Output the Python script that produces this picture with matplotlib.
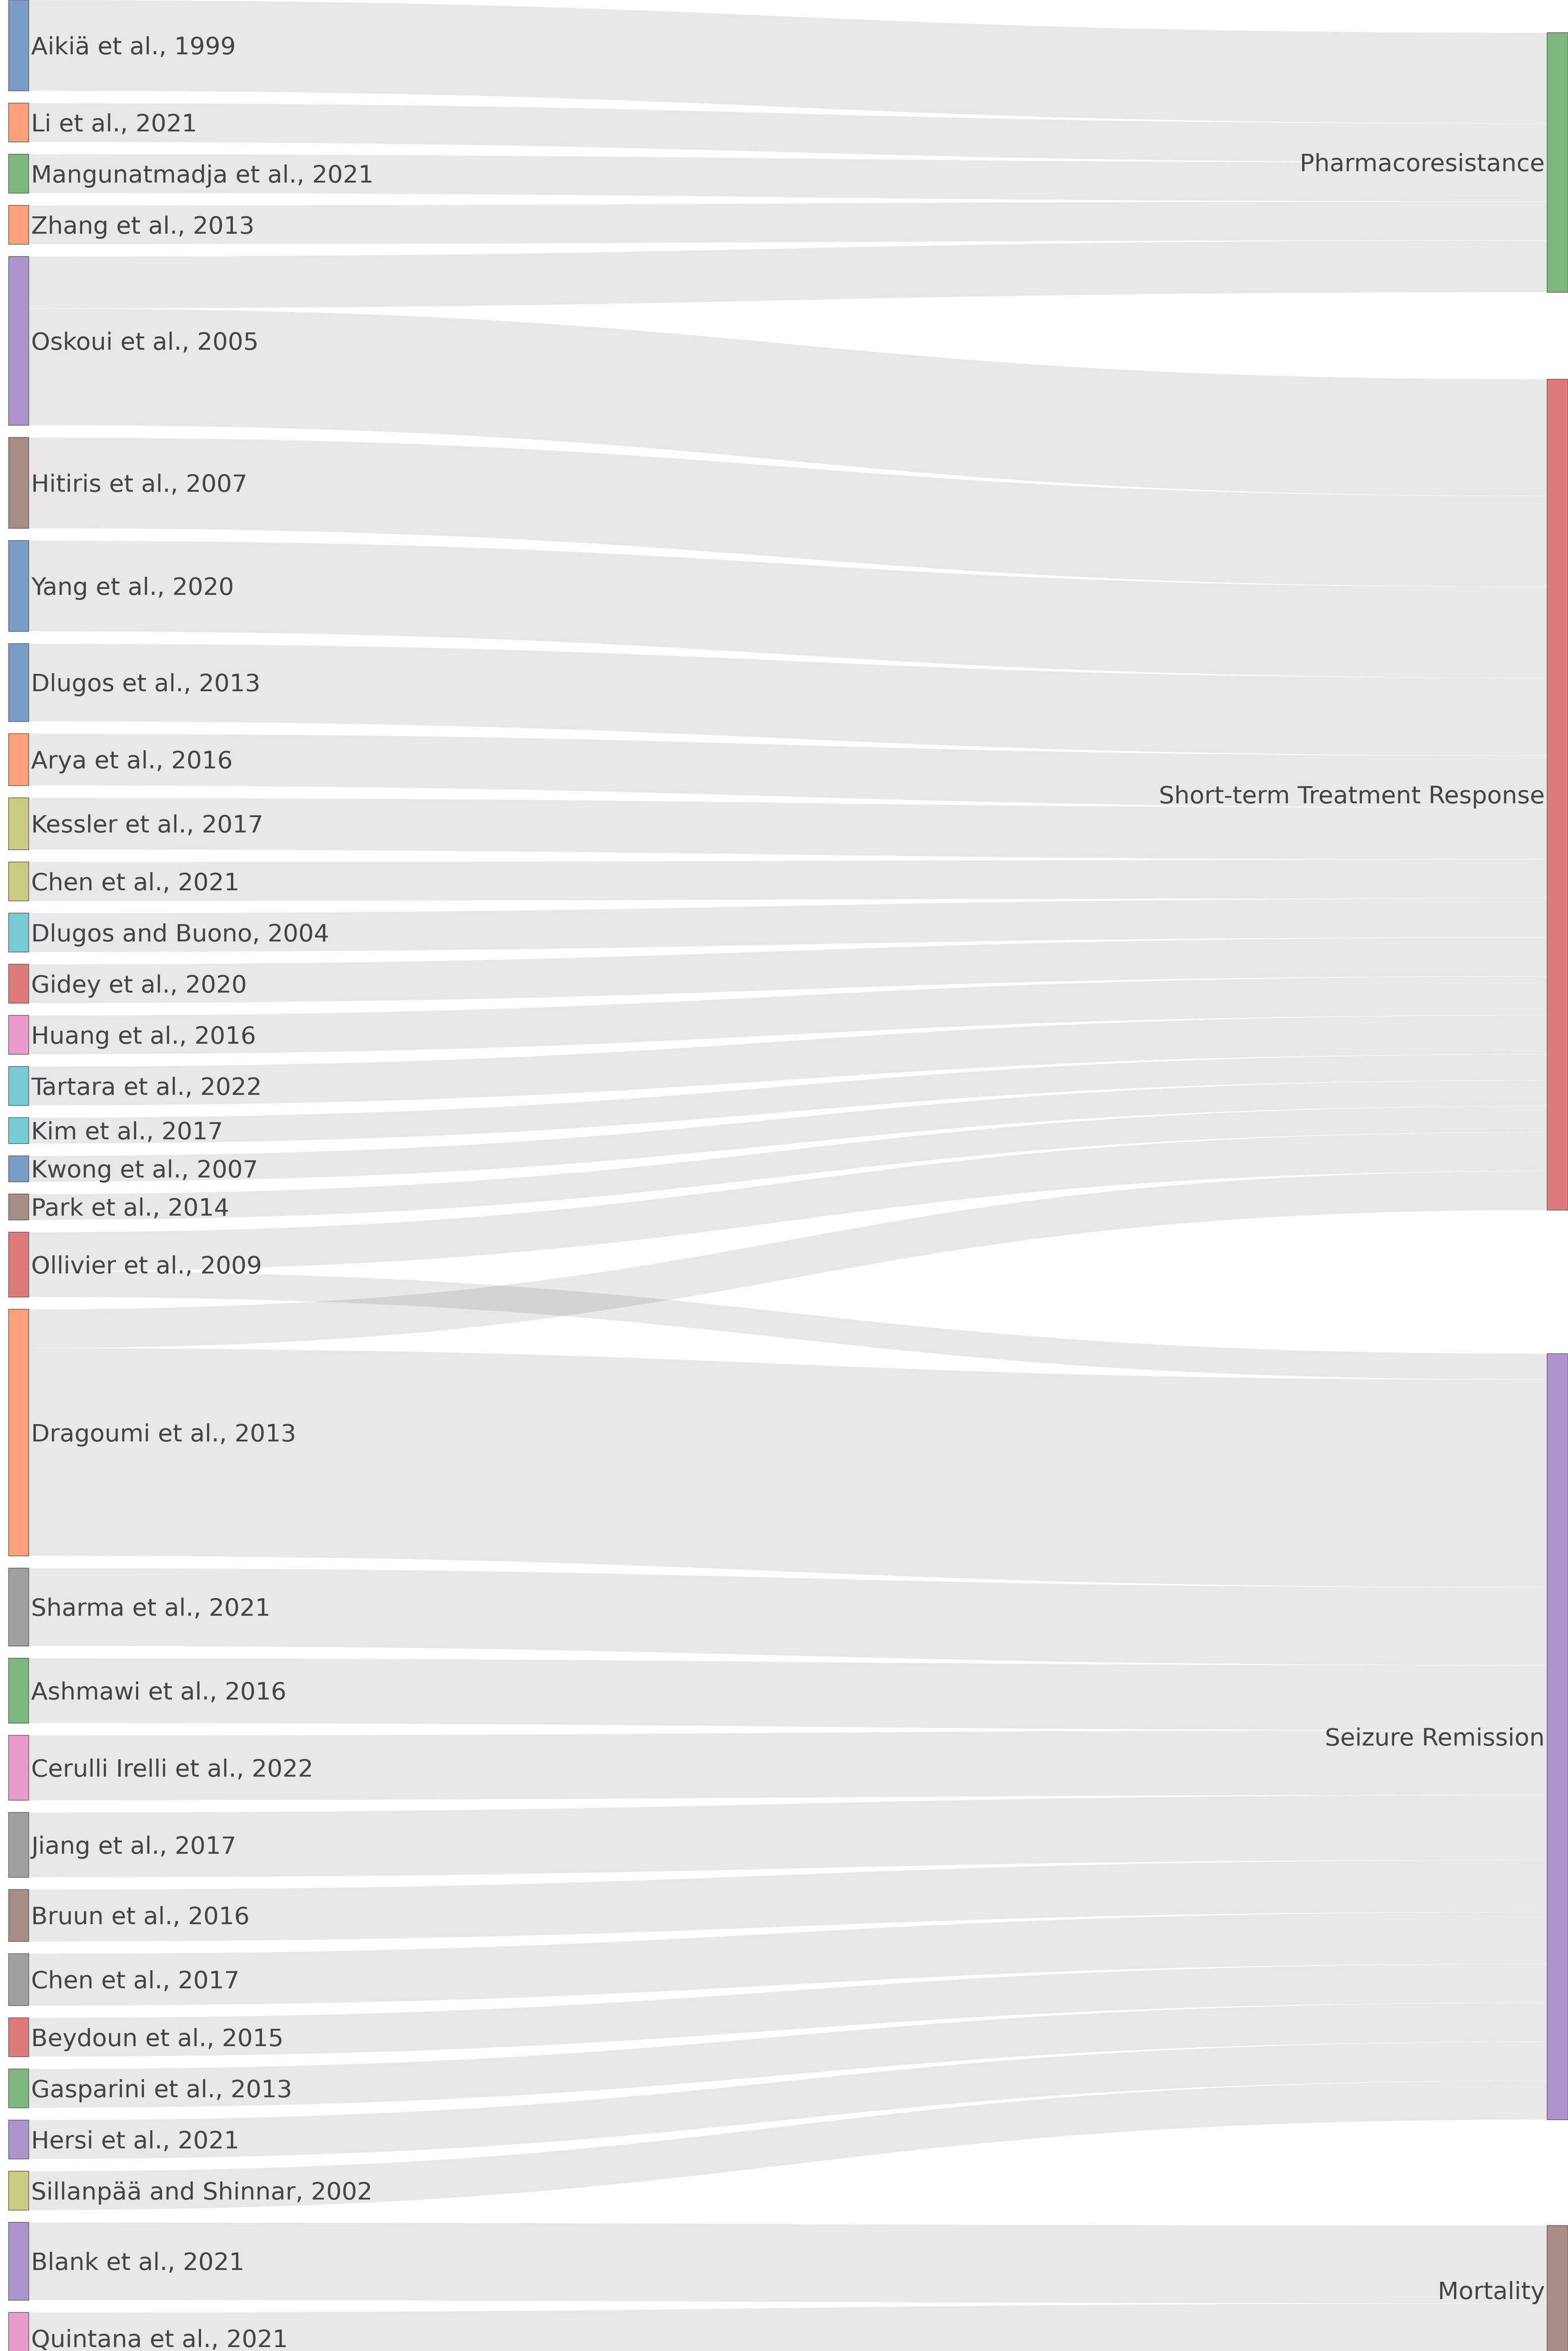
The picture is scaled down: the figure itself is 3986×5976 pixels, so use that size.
import numpy as np
import matplotlib
matplotlib.use('Agg')
import matplotlib.pyplot as plt
from matplotlib.path import Path
from matplotlib.patches import PathPatch, Rectangle

# ---- data ----
studies = ['Aikiä et al., 1999', 'Li et al., 2021', 'Mangunatmadja et al., 2021',
           'Zhang et al., 2013', 'Oskoui et al., 2005', 'Hitiris et al., 2007',
           'Yang et al., 2020', 'Dlugos et al., 2013', 'Arya et al., 2016',
           'Kessler et al., 2017', 'Chen et al., 2021', 'Dlugos and Buono, 2004',
           'Gidey et al., 2020', 'Huang et al., 2016', 'Tartara et al., 2022',
           'Kim et al., 2017', 'Kwong et al., 2007', 'Park et al., 2014',
           'Ollivier et al., 2009', 'Dragoumi et al., 2013', 'Sharma et al., 2021',
           'Ashmawi et al., 2016', 'Cerulli Irelli et al., 2022', 'Jiang et al., 2017',
           'Bruun et al., 2016', 'Chen et al., 2017', 'Beydoun et al., 2015',
           'Gasparini et al., 2013', 'Hersi et al., 2021', 'Sillanpää and Shinnar, 2002',
           'Blank et al., 2021', 'Quintana et al., 2021']
outcomes = ['Pharmacoresistance', 'Short-term Treatment Response',
            'Seizure Remission', 'Mortality']

link_source = ['Aikiä et al., 1999', 'Li et al., 2021', 'Mangunatmadja et al., 2021',
               'Zhang et al., 2013', 'Oskoui et al., 2005', 'Oskoui et al., 2005',
               'Hitiris et al., 2007', 'Yang et al., 2020', 'Dlugos et al., 2013',
               'Arya et al., 2016', 'Kessler et al., 2017', 'Chen et al., 2021',
               'Dlugos and Buono, 2004', 'Gidey et al., 2020', 'Huang et al., 2016',
               'Tartara et al., 2022', 'Kim et al., 2017', 'Kwong et al., 2007',
               'Park et al., 2014', 'Ollivier et al., 2009', 'Ollivier et al., 2009',
               'Dragoumi et al., 2013', 'Dragoumi et al., 2013', 'Sharma et al., 2021',
               'Ashmawi et al., 2016', 'Cerulli Irelli et al., 2022', 'Jiang et al., 2017',
               'Bruun et al., 2016', 'Chen et al., 2017', 'Beydoun et al., 2015',
               'Gasparini et al., 2013', 'Hersi et al., 2021', 'Sillanpää and Shinnar, 2002',
               'Blank et al., 2021', 'Quintana et al., 2021']
link_target = ['Pharmacoresistance'] * 5 + ['Short-term Treatment Response'] * 15 + \
              ['Seizure Remission', 'Short-term Treatment Response'] + \
              ['Seizure Remission'] * 11 + ['Mortality'] * 2
link_value = [7, 3, 3, 3, 4, 9, 7, 7, 6, 4, 4, 3, 3, 3, 3, 3, 2, 2, 2, 3,
              2, 3, 16, 6, 5, 5, 5, 4, 4, 3, 3, 3, 3, 6, 4]

# ---- style ----
pal = {'blue': '#7a9dc8', 'orange': '#fda07b', 'green': '#7eb77e', 'purple': '#ae94cc',
       'brown': '#a88c87', 'olive': '#cbcc82', 'cyan': '#79cbd7', 'red': '#dd7b7b',
       'pink': '#ea9ccf', 'gray': '#a0a0a0'}
study_color = ['blue', 'orange', 'green', 'orange', 'purple', 'brown', 'blue', 'blue',
               'orange', 'olive', 'olive', 'cyan', 'red', 'pink', 'cyan', 'cyan', 'blue',
               'brown', 'red', 'orange', 'gray', 'green', 'pink', 'gray', 'brown', 'gray',
               'red', 'green', 'purple', 'olive', 'purple', 'pink']
outcome_color = ['green', 'red', 'purple', 'brown']

W, H = 3986, 5976
unit = 33.0          # px per value unit
pad = 31             # gap between left nodes
lx0, lx1 = 22, 73
rx0, rx1 = 3933, 3986
right_gaps = [83, 221, 365, 269]
font_px = 61.5
fs = font_px * 72 / 100

# ---- layout ----
src_idx = [studies.index(s) for s in link_source]
tgt_idx = [outcomes.index(t) for t in link_target]
left_val = np.zeros(len(studies))
right_val = np.zeros(len(outcomes))
for s, t, v in zip(src_idx, tgt_idx, link_value):
    left_val[s] += v
    right_val[t] += v

left_top = np.zeros(len(studies))
y = 0
for i, v in enumerate(left_val):
    left_top[i] = y
    y += v * unit + pad

right_top = np.zeros(len(outcomes))
y = 0
for i, v in enumerate(right_val):
    y += right_gaps[i]
    right_top[i] = y
    y += v * unit

# offsets of each link at its source and target
order_src = sorted(range(len(link_value)), key=lambda k: (src_idx[k], tgt_idx[k]))
order_tgt = sorted(range(len(link_value)), key=lambda k: (tgt_idx[k], src_idx[k]))
s_off = left_top.copy()
t_off = right_top.copy()
link_y0 = {}
link_y1 = {}
for k in order_src:
    link_y0[k] = s_off[src_idx[k]]
    s_off[src_idx[k]] += link_value[k] * unit
for k in order_tgt:
    link_y1[k] = t_off[tgt_idx[k]]
    t_off[tgt_idx[k]] += link_value[k] * unit

fig = plt.figure(figsize=(W / 100, H / 100), dpi=100)
ax = fig.add_axes([0, 0, 1, 1])
ax.set_xlim(0, W)
ax.set_ylim(H, 0)
ax.axis('off')

# links
for k in range(len(link_value)):
    h = link_value[k] * unit
    a0, b0 = link_y0[k], link_y1[k]
    xm = (lx1 + rx0) / 2
    verts = [(lx1, a0), (xm, a0), (xm, b0), (rx0, b0),
             (rx0, b0 + h), (xm, b0 + h), (xm, a0 + h), (lx1, a0 + h), (lx1, a0)]
    codes = [Path.MOVETO, Path.CURVE4, Path.CURVE4, Path.CURVE4,
             Path.LINETO, Path.CURVE4, Path.CURVE4, Path.CURVE4, Path.CLOSEPOLY]
    ax.add_patch(PathPatch(Path(verts, codes), facecolor=(0, 0, 0, 0.09),
                           edgecolor=(1, 1, 1, 0.7), linewidth=0.6, zorder=1))

# nodes + labels
for i, name in enumerate(studies):
    h = left_val[i] * unit
    ax.add_patch(Rectangle((lx0, left_top[i]), lx1 - lx0, h, facecolor=pal[study_color[i]],
                           edgecolor='#555555', linewidth=1.1, zorder=2))
    ax.text(lx1 + 6, left_top[i] + h / 2 + 0.3645 * font_px, name, ha='left',
            va='baseline', fontsize=fs, color='#444444', family='DejaVu Sans', zorder=3)

for i, name in enumerate(outcomes):
    h = right_val[i] * unit
    ax.add_patch(Rectangle((rx0, right_top[i]), rx1 - rx0, h, facecolor=pal[outcome_color[i]],
                           edgecolor='#555555', linewidth=1.1, zorder=2))
    ax.text(rx0 - 6, right_top[i] + h / 2 + 0.3645 * font_px, name, ha='right',
            va='baseline', fontsize=fs, color='#444444', family='DejaVu Sans', zorder=3)

fig.savefig('out.png', dpi=100, facecolor='white')
